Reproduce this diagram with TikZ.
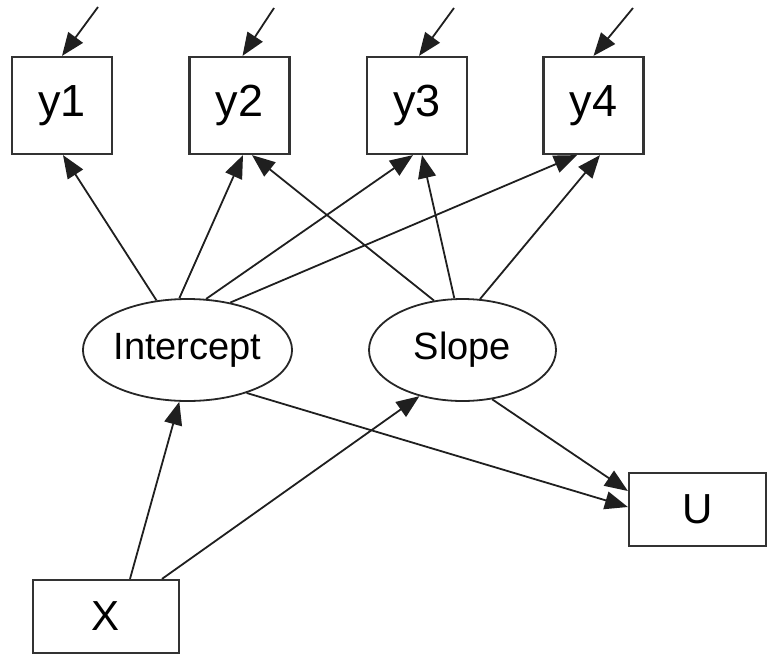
\documentclass[tikz,border=0pt]{standalone}
\usepackage{fontspec}
\setmainfont{Liberation Sans}
\usetikzlibrary{arrows.meta,shapes.geometric}
\begin{document}
\begin{tikzpicture}[x=1pt,y=-1pt,
  obs/.style={draw=black!80,line width=2.2pt,rectangle,inner sep=0pt},
  ybox/.style={obs,minimum width=100pt,minimum height=97pt,font=\fontsize{45}{45}\selectfont},
  sbox/.style={obs,minimum height=73pt,font=\fontsize{42}{42}\selectfont},
  latent/.style={draw=black!85,line width=1.8pt,ellipse,inner sep=0pt,
    minimum width=187pt,minimum height=102pt,font=\fontsize{38}{38}\selectfont},
  reg/.style={draw=black!88,line width=1.8pt,-{Triangle[length=23pt,width=18pt]}}
]
\useasboundingbox (0,0) rectangle (770,656);

% observed indicators
\node[ybox] (y1) at (62,105.5)  {y1};
\node[ybox] (y2) at (239.5,105.5) {y2};
\node[ybox] (y3) at (417,105.5) {y3};
\node[ybox] (y4) at (593.5,105.5) {y4};

% growth factors
\node[latent] (I) at (187.5,350) {Intercept};
\node[latent] (S) at (462.5,350) {Slope};

% covariate and outcome
\node[sbox,minimum width=137pt] (U) at (697.5,509.5) {U};
\node[sbox,minimum width=146pt] (X) at (106,616.5) {X};

% residual terms
\coordinate (e1) at (98,7);
\coordinate (e2) at (274,8);
\coordinate (e3) at (454,8);
\coordinate (e4) at (633,8);
\draw[reg] (e1) -- (y1.north);
\draw[reg] (e2) -- ([xshift=3pt]y2.north);
\draw[reg] (e3) -- ([xshift=2pt]y3.north);
\draw[reg] (e4) -- (y4.north);

% intercept loadings
\draw[reg] (I.122.7) -- ([xshift=1pt]y1.south);
\draw[reg] (I.99.4)  -- ([xshift=3.5pt]y2.south);
\draw[reg] (I.70)    -- ([xshift=-4pt]y3.south);
\draw[reg] (I.48.5)  -- ([xshift=-16.5pt]y4.south);

% slope loadings
\draw[reg] (S.120.8) -- ([xshift=12.5pt]y2.south);
\draw[reg] (S.99.4)  -- ([xshift=5pt]y3.south);
\draw[reg] (S.71.1)  -- ([xshift=6.5pt]y4.south);

% structural paths
\draw[reg] (I.-36) -- ([yshift=2.5pt]U.west);
\draw[reg] (S.-59) -- ([yshift=18.5pt]U.west);
\draw[reg] ([xshift=24pt]X.north) -- (I.261.7);
\draw[reg] ([xshift=56pt]X.north) -- (S.227.5);
\end{tikzpicture}
\end{document}
